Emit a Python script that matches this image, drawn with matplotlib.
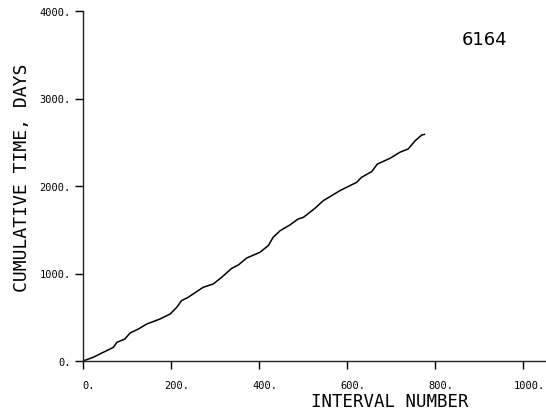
import matplotlib
matplotlib.use("Agg")
import matplotlib.pyplot as plt
import matplotlib.transforms as mtransforms

interval = [0, 23, 46, 69, 77, 95, 107, 126, 145, 175, 198, 213, 224, 239,
            273, 296, 315, 338, 353, 372, 402, 421, 432, 448, 470, 489,
            501, 527, 546, 584, 622, 633, 656, 669, 698, 720, 739, 755, 770, 776]
cum_days = [0, 42, 99, 156, 213, 251, 320, 366, 423, 480, 537, 613, 690, 728,
            842, 880, 956, 1059, 1097, 1177, 1242, 1318, 1413, 1489, 1554, 1623,
            1642, 1745, 1832, 1947, 2042, 2099, 2164, 2251, 2317, 2385, 2423, 2518, 2583, 2590]

xticks = [0, 200, 400, 600, 800, 1000]
xticklabels = ["0.", "200.", "400.", "600.", "800.", "1000."]
yticks = [0, 1000, 2000, 3000, 4000]
yticklabels = ["0.", "1000.", "2000.", "3000.", "4000."]

mono = "DejaVu Sans Mono"

fig = plt.figure(figsize=(5.46, 4.10), dpi=100)
ax = fig.add_axes([83/546, 48/410, 462/546, 350/410])
ax.plot(interval, cum_days, color="black", lw=1.1)
ax.set_xlim(0, 1050)
ax.set_ylim(0, 4000)
for s in ["top", "right"]:
    ax.spines[s].set_visible(False)
for s in ["left", "bottom"]:
    ax.spines[s].set_linewidth(1.0)
    ax.spines[s].set_color("#222222")

ax.set_xticks(xticks)
ax.set_xticklabels(xticklabels, fontfamily=mono, fontsize=7.5)
ax.set_yticks(yticks)
ax.set_yticklabels(yticklabels, fontfamily=mono, fontsize=7.5)
ax.tick_params(axis="x", direction="out", length=6, width=1, pad=8)
ax.tick_params(axis="y", direction="out", length=6, width=1, pad=3)

xl = ax.get_xticklabels()
for i, lbl in enumerate(xl):
    if i == len(xl) - 1:
        lbl.set_horizontalalignment("right")
        off = mtransforms.ScaledTranslation(22/100, 0, fig.dpi_scale_trans)
    else:
        lbl.set_horizontalalignment("center")
        off = mtransforms.ScaledTranslation(6/100, 0, fig.dpi_scale_trans)
    lbl.set_transform(lbl.get_transform() + off)

fig.text(22/546, 1 - 178/410, "CUMULATIVE TIME, DAYS", rotation=90, ha="center", va="center",
         fontfamily=mono, fontsize=13)
fig.text(390/546, 1 - 402/410, "INTERVAL NUMBER", ha="center", va="center",
         fontfamily=mono, fontsize=12.5)
fig.text(485/546, 1 - 40/410, "6164", ha="center", va="center",
         fontfamily="DejaVu Sans", fontsize=13)

fig.savefig("out.png", dpi=100)
